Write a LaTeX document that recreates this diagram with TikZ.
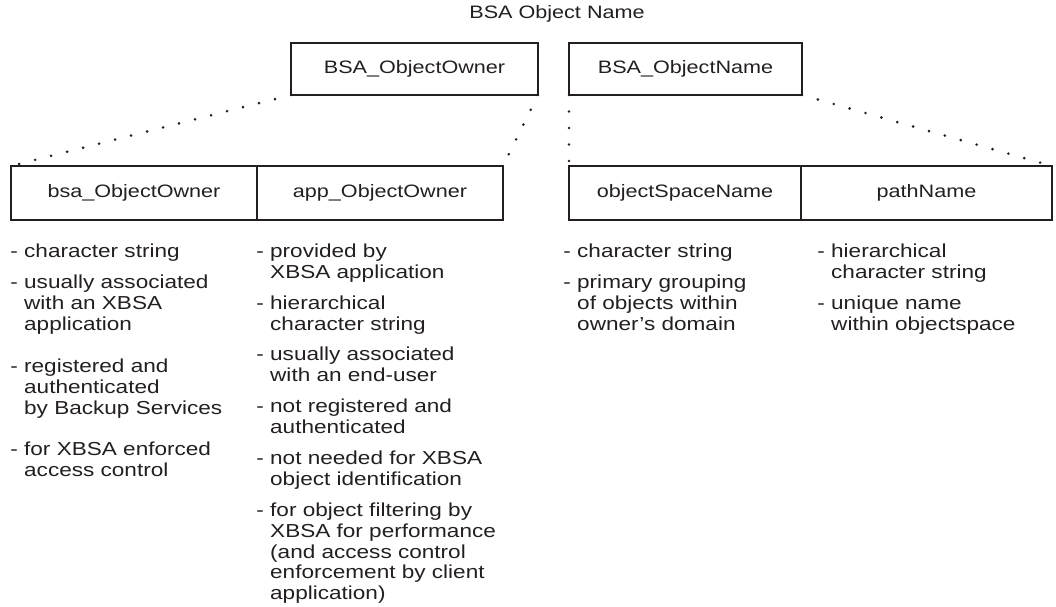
\documentclass[tikz,border=0pt]{standalone}
\usepackage{fontspec}
\newfontfamily\hv{Liberation Sans}[FakeStretch=1.2]
\definecolor{ink}{HTML}{231F20}
\tikzset{
  box/.style={draw=ink, line width=2.2pt, inner sep=0pt, outer sep=0pt,
    text=ink, font=\hv\fontsize{18}{20.5}\selectfont},
  item/.style={anchor=north west, inner sep=0pt, align=left, text=ink,
    font=\hv\fontsize{18.8}{20.6}\selectfont},
  dotline/.style={draw=ink, line width=2.9pt, line cap=round,
    dash pattern=on 0pt off 16.5pt},
}
\newcommand{\dsh}{\llap{- }}
\begin{document}
\begin{tikzpicture}[x=1pt,y=-1pt]
\useasboundingbox (0,0) rectangle (1056,606);

% heading
\node[text=ink, font=\hv\fontsize{18}{20.5}\selectfont] (title) at (557,14) {BSA Object Name};

% upper boxes
\node[box, minimum width=247pt, minimum height=52pt] (own) at (414.5,69) {BSA\_ObjectOwner};
\node[box, minimum width=233pt, minimum height=52pt] (nam) at (685.5,69) {BSA\_ObjectName};

% lower boxes
\node[box, minimum width=246pt, minimum height=54pt] (bo)  at (134,193) {bsa\_ObjectOwner};
\node[box, minimum width=246pt, minimum height=54pt] (ao)  at (380,193) {app\_ObjectOwner};
\node[box, minimum width=232pt, minimum height=54pt] (osn) at (685,193) {objectSpaceName};
\node[box, minimum width=251pt, minimum height=54pt] (pn)  at (926.5,193) {pathName};

% dotted links
\draw[dotline] (own.south west) -- (bo.north west);
\draw[dotline] (own.south east) -- (ao.north east);
\draw[dotline] (nam.south west) -- (osn.north west);
\draw[dotline] (nam.south east) -- (pn.north east);

% bsa_ObjectOwner notes
\node[item] (b1) at (24,244) {\dsh character string};
\node[item] (b2) at (24,275) {\dsh usually associated\\with an XBSA\\application};
\node[item] (b3) at (24,359) {\dsh registered and\\authenticated\\by Backup Services};
\node[item] (b4) at (24,442) {\dsh for XBSA enforced\\access control};

% app_ObjectOwner notes
\node[item] (a1) at (270,244) {\dsh provided by\\XBSA application};
\node[item] (a2) at (270,296) {\dsh hierarchical\\character string};
\node[item] (a3) at (270,347) {\dsh usually associated\\with an end-user};
\node[item] (a4) at (270,399) {\dsh not registered and\\authenticated};
\node[item] (a5) at (270,451) {\dsh not needed for XBSA\\object identification};
\node[item] (a6) at (270,503) {\dsh for object filtering by\\XBSA for performance\\(and access control\\enforcement by client\\application)};

% objectSpaceName notes
\node[item] (o1) at (577,244) {\dsh character string};
\node[item] (o2) at (577,275) {\dsh primary grouping\\of objects within\\owner’s domain};

% pathName notes
\node[item] (p1) at (831,244) {\dsh hierarchical\\character string};
\node[item] (p2) at (831,296) {\dsh unique name\\within objectspace};
\end{tikzpicture}
\end{document}
